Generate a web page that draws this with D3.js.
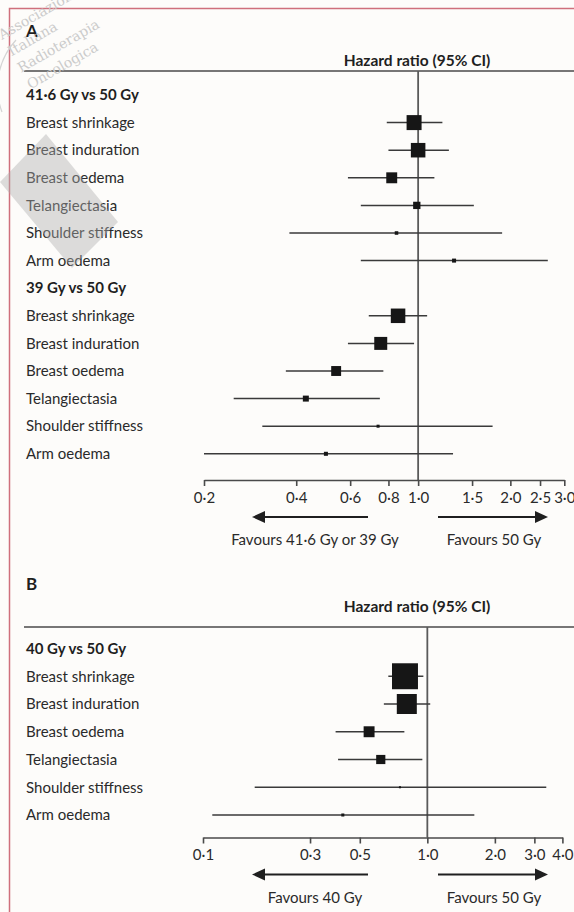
<!DOCTYPE html>
<html>
<head>
<meta charset="utf-8">
<script src="https://cdn.jsdelivr.net/npm/d3@7"></script>
<style>
  body { margin: 0; background: #fdfcfa; }
  svg { display: block; font-family: Lato, "Open Sans", sans-serif; }
</style>
</head>
<body>
<svg id="chart" width="574" height="912"></svg>
<script>
// outcomes shown in every group
var outcomes = ["Breast shrinkage", "Breast induration", "Breast oedema",
                "Telangiectasia", "Shoulder stiffness", "Arm oedema"];

// panel A, 41·6 Gy vs 50 Gy
var hr416 = [0.97, 1.00, 0.82, 0.99, 0.85, 1.31];
var lo416 = [0.79, 0.80, 0.59, 0.65, 0.38, 0.65];
var hi416 = [1.20, 1.26, 1.13, 1.52, 1.88, 2.65];
var wt416 = [32, 30, 17, 7.6, 1.8, 2.3];

// panel A, 39 Gy vs 50 Gy
var hr39 = [0.86, 0.755, 0.54, 0.43, 0.74, 0.50];
var lo39 = [0.69, 0.59, 0.37, 0.25, 0.31, 0.20];
var hi39 = [1.07, 0.97, 0.77, 0.75, 1.75, 1.30];
var wt39 = [30, 24, 14, 5.1, 1.3, 2.3];

// panel B, 40 Gy vs 50 Gy
var hr40 = [0.795, 0.81, 0.55, 0.62, 0.755, 0.42];
var lo40 = [0.67, 0.64, 0.39, 0.40, 0.17, 0.11];
var hi40 = [0.96, 1.03, 0.79, 0.95, 3.39, 1.62];
var wt40 = [96, 57, 17, 12, 0.6, 1.3];

var ticksA = [0.2, 0.4, 0.6, 0.8, 1.0, 1.5, 2.0, 2.5, 3.0];
var ticksB = [0.1, 0.3, 0.5, 1.0, 2.0, 3.0, 4.0];

var svg = d3.select("#chart");
var W = 574;
var ink = "#1f1f1f";
var fs = 15;

// frame
svg.append("path")
    .attr("d", "M9.5,912V8.5H574")
    .attr("fill", "none")
    .attr("stroke", "#cf6f7c")
    .attr("stroke-width", 1.5);

// marker side from weight
var side = d3.scaleSqrt().domain([0, 100]).range([0, 26.5]);
var fmt = function(d) { return d3.format(".1f")(d).replace(".", "\u00b7"); };

function drawPanel(p) {
    var g = svg.append("g");
    var x = d3.scaleLog().domain(p.domain).range(p.range);

    var keys = [];
    p.groups.forEach(function(gr, gi) {
        keys.push("h" + gi);
        outcomes.forEach(function(o, i) { keys.push(gi + "-" + i); });
    });
    var y = d3.scalePoint().domain(keys).range([p.rowTop, p.rowBottom]);

    g.append("text").attr("x", 26).attr("y", p.letterY)
        .attr("font-size", 17).attr("font-weight", 700).attr("fill", ink)
        .text(p.letter);

    g.append("text").attr("x", 417).attr("y", p.titleY)
        .attr("text-anchor", "middle")
        .attr("font-size", 15.5).attr("font-weight", 700).attr("fill", ink)
        .text("Hazard ratio (95% CI)");

    g.append("line")
        .attr("x1", 24).attr("x2", W)
        .attr("y1", p.ruleY).attr("y2", p.ruleY)
        .attr("stroke", "#4a4a4a").attr("stroke-width", 1.6);

    // line of no effect
    g.append("line")
        .attr("x1", x(1)).attr("x2", x(1))
        .attr("y1", p.ruleY).attr("y2", p.axisY)
        .attr("stroke", "#5a5a5a").attr("stroke-width", 1.8);

    p.groups.forEach(function(gr, gi) {
        g.append("text").attr("x", 26).attr("y", y("h" + gi)).attr("dy", "0.35em")
            .attr("font-size", fs).attr("font-weight", 700).attr("fill", ink)
            .text(gr.title);

        var rows = outcomes.map(function(o, i) {
            return { name: o, key: gi + "-" + i, hr: gr.hr[i], lo: gr.lo[i], hi: gr.hi[i], w: gr.w[i] };
        });

        g.selectAll(null).data(rows).enter().append("text")
            .attr("x", 26).attr("y", function(d) { return y(d.key); }).attr("dy", "0.35em")
            .attr("font-size", fs).attr("fill", "#2a2a2a")
            .text(function(d) { return d.name; });

        g.selectAll(null).data(rows).enter().append("line")
            .attr("x1", function(d) { return x(d.lo); })
            .attr("x2", function(d) { return x(d.hi); })
            .attr("y1", function(d) { return y(d.key); })
            .attr("y2", function(d) { return y(d.key); })
            .attr("stroke", "#3a3a3a").attr("stroke-width", 1.5);

        g.selectAll(null).data(rows).enter().append("rect")
            .attr("x", function(d) { return x(d.hr) - side(d.w) / 2; })
            .attr("y", function(d) { return y(d.key) - side(d.w) / 2; })
            .attr("width", function(d) { return side(d.w); })
            .attr("height", function(d) { return side(d.w); })
            .attr("fill", "#161616");
    });

    var axis = d3.axisBottom(x).tickValues(p.ticks).tickFormat(fmt)
        .tickSize(6).tickSizeOuter(0).tickPadding(6);
    var ax = g.append("g").attr("transform", "translate(0," + p.axisY + ")").call(axis);
    ax.attr("font-family", null).attr("font-size", fs);
    ax.select(".domain").attr("stroke", "#4a4a4a").attr("stroke-width", 1.6);
    ax.selectAll(".tick line").attr("stroke", "#4a4a4a").attr("stroke-width", 1.6);
    ax.selectAll(".tick text").attr("fill", "#2a2a2a");

    // favours arrows
    var ay = p.axisY + 37;
    var arrows = g.append("g").attr("fill", ink).attr("stroke", ink);
    arrows.append("line").attr("x1", 262).attr("x2", 368).attr("y1", ay).attr("y2", ay).attr("stroke-width", 2.2);
    arrows.append("path").attr("stroke", "none")
        .attr("d", "M252," + ay + "L265," + (ay - 6) + "L265," + (ay + 6) + "Z");
    arrows.append("line").attr("x1", 438).attr("x2", 538).attr("y1", ay).attr("y2", ay).attr("stroke-width", 2.2);
    arrows.append("path").attr("stroke", "none")
        .attr("d", "M548," + ay + "L535," + (ay - 6) + "L535," + (ay + 6) + "Z");

    g.append("text").attr("x", 315).attr("y", p.axisY + 65)
        .attr("text-anchor", "middle").attr("font-size", fs).attr("fill", "#2a2a2a")
        .text(p.favours[0]);
    g.append("text").attr("x", 494).attr("y", p.axisY + 65)
        .attr("text-anchor", "middle").attr("font-size", fs).attr("fill", "#2a2a2a")
        .text(p.favours[1]);
}

drawPanel({
    letter: "A", letterY: 37, titleY: 66, ruleY: 71,
    rowTop: 95, rowBottom: 453.8, axisY: 480,
    domain: [0.2, 3], range: [204, 564.3], ticks: ticksA,
    favours: ["Favours 41\u00b76 Gy or 39 Gy", "Favours 50 Gy"],
    groups: [
        { title: "41\u00b76 Gy vs 50 Gy", hr: hr416, lo: lo416, hi: hi416, w: wt416 },
        { title: "39 Gy vs 50 Gy", hr: hr39, lo: lo39, hi: hi39, w: wt39 }
    ]
});

drawPanel({
    letter: "B", letterY: 590, titleY: 612, ruleY: 627,
    rowTop: 648.5, rowBottom: 815, axisY: 837.5,
    domain: [0.1, 4], range: [203, 562.4], ticks: ticksB,
    favours: ["Favours 40 Gy", "Favours 50 Gy"],
    groups: [
        { title: "40 Gy vs 50 Gy", hr: hr40, lo: lo40, hi: hi40, w: wt40 }
    ]
});

// watermark in the top left corner
var wm = svg.append("g").attr("pointer-events", "none");
wm.append("path")
    .attr("d", "M46,134L118,222L72,268L0,182Z")
    .attr("fill", "#adadad").attr("opacity", 0.42);
wm.append("path")
    .attr("d", "M2,112A70,70 0 0 1 16,40")
    .attr("fill", "none").attr("stroke", "#d4d4d4").attr("stroke-width", 1.2);
var wmLines = ["Associazione", "Italiana", "Radioterapia", "Oncologica"];
wm.selectAll(null).data(wmLines).enter().append("text")
    .attr("transform", function(d, i) { return "translate(" + (2 + i * 9.5) + "," + (40 + i * 16.5) + ") rotate(-30)"; })
    .attr("font-size", 14).attr("fill", "#cbcbcb")
    .attr("font-family", "'DejaVu Serif', serif")
    .text(function(d) { return d; });
</script>
</body>
</html>
